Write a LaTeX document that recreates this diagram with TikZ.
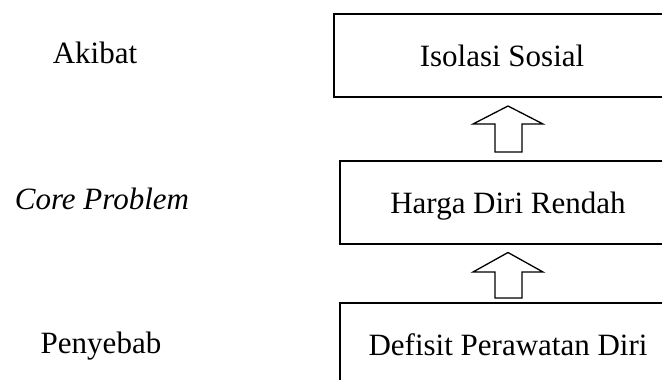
\documentclass[tikz,border=0pt]{standalone}
\usepackage{fontspec}
\setmainfont{Liberation Serif}
\begin{document}
\begin{tikzpicture}[x=1pt,y=-1pt,
  boxnode/.style={draw=black,line width=1.3pt,minimum width=336pt,minimum height=83pt,
    inner sep=0pt,text height=21pt,text depth=0pt,font=\fontsize{31}{36}\selectfont},
  sidelabel/.style={anchor=base,inner sep=0pt,font=\fontsize{31}{36}\selectfont},
  hollowarrow/.style={draw=black,line width=1.3pt,fill=white,line join=miter}]
\useasboundingbox (0,0) rectangle (662,380);
\clip (0,0) rectangle (662,380);
\node[boxnode] (top) at (502,55.5) {Isolasi Sosial};
\node[boxnode] (mid) at (508,202.5) {Harga Diri Rendah};
\node[boxnode] (bot) at (508,344.5) {Defisit Perawatan Diri};
\node[sidelabel] (akibat) at (95,63) {Akibat};
\node[sidelabel] (core) at (102,209) {\itshape Core Problem};
\node[sidelabel] (sebab) at (101,353) {Penyebab};
% arrow 1 (mid -> top)
\coordinate (a1) at (508,106);
\draw[hollowarrow] (a1) -- ++(35,18) -- ++(-21,0) -- ++(0,28) -- ++(-27,0) -- ++(0,-28) -- ++(-22,0) -- cycle;
% arrow 2 (bot -> mid)
\coordinate (a2) at (508,252.5);
\draw[hollowarrow] (a2) -- ++(35,19.5) -- ++(-21,0) -- ++(0,26) -- ++(-27,0) -- ++(0,-26) -- ++(-22,0) -- cycle;
\end{tikzpicture}
\end{document}
